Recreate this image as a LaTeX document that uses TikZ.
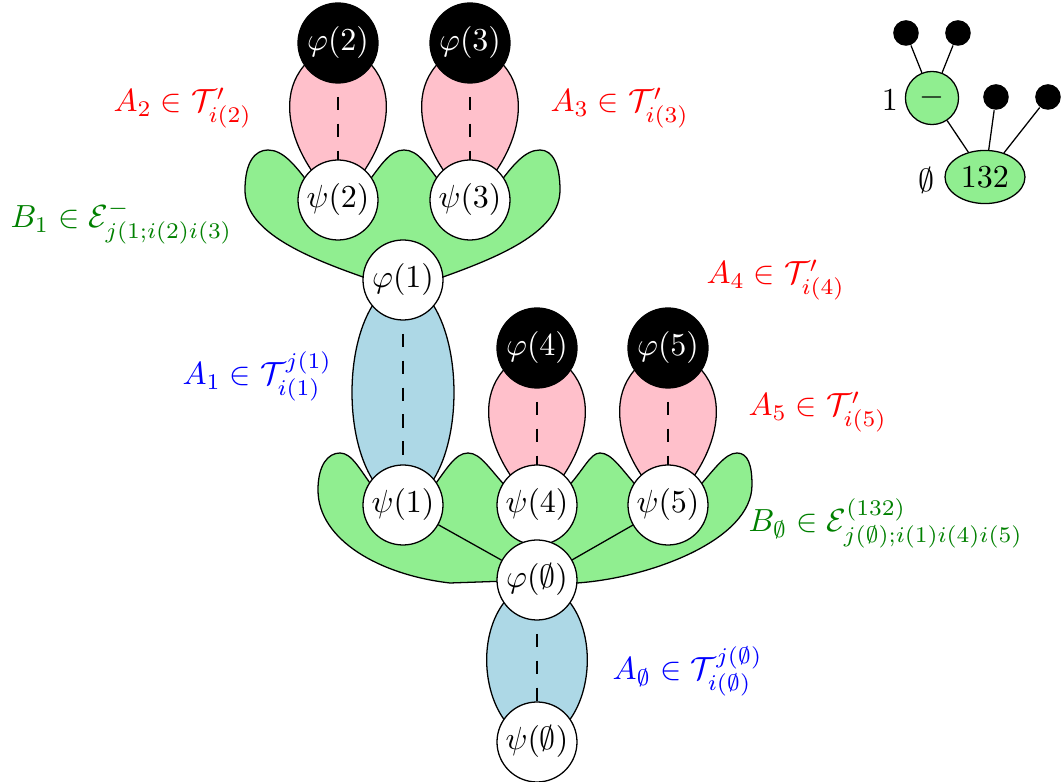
\documentclass[tikz,border=0pt]{standalone}
\usetikzlibrary{shapes.geometric,backgrounds}
\definecolor{lgreen}{RGB}{144,238,144}
\definecolor{lpink}{RGB}{255,192,203}
\definecolor{lblue}{RGB}{173,216,230}
\definecolor{dgreen}{RGB}{0,128,0}
\begin{document}
\begin{tikzpicture}[x=0.3125pt,y=-0.3125pt,
  wnode/.style={circle,draw,fill=white,minimum size=25pt,inner sep=0pt},
  bnode/.style={circle,draw,fill=black,text=white,minimum size=25pt,inner sep=0pt},
  lbl/.style={anchor=base west,inner sep=0pt},
  blob/.style={draw,fill=lgreen},
  pinklens/.style={draw,fill=lpink},
  bluelens/.style={draw,fill=lblue},
  dashline/.style={draw,dash pattern=on 4.2pt off 4.2pt},
  dotnode/.style={circle,fill=black,minimum size=8pt,inner sep=0pt},
  treenode/.style={draw,fill=lgreen,inner sep=0pt}]
\useasboundingbox (0,0) rectangle (1062,782);

% nodes
\node[bnode] (phi2) at (338,43) {$\varphi(2)$};
\node[bnode] (phi3) at (470,43) {$\varphi(3)$};
\node[wnode] (psi2) at (338,200) {$\psi(2)$};
\node[wnode] (psi3) at (470,200) {$\psi(3)$};
\node[wnode] (phi1) at (403,280) {$\varphi(1)$};
\node[wnode] (psi1) at (403,505) {$\psi(1)$};
\node[bnode] (phi4) at (537,348) {$\varphi(4)$};
\node[bnode] (phi5) at (668,348) {$\varphi(5)$};
\node[wnode] (psi4) at (537,505) {$\psi(4)$};
\node[wnode] (psi5) at (668,505) {$\psi(5)$};
\node[wnode] (phie) at (537,580) {$\varphi(\emptyset)$};
\node[wnode] (psie) at (537,742) {$\psi(\emptyset)$};

\begin{pgfonlayer}{background}
% green blobs
\path[blob] (363,277) .. controls (300,255) and (245,230) .. (245,190)
  .. controls (245,162) and (255,150) .. (268,150)
  .. controls (283,150) and (295,165) .. (310,185) -- (338,200) -- (366,185)
  .. controls (381,165) and (390,150) .. (404,150)
  .. controls (418,150) and (427,165) .. (442,185) -- (470,200) -- (498,185)
  .. controls (513,165) and (525,150) .. (540,150)
  .. controls (553,150) and (560,165) .. (560,190)
  .. controls (560,230) and (505,255) .. (443,277) -- (403,280) -- cycle;
\path[blob] (450,583) .. controls (380,575) and (318,540) .. (318,490)
  .. controls (318,465) and (328,453) .. (340,453)
  .. controls (352,453) and (360,470) .. (375,490) -- (403,505) -- (431,490)
  .. controls (446,470) and (455,453) .. (468,453)
  .. controls (481,453) and (490,470) .. (509,490) -- (537,505) -- (565,490)
  .. controls (584,470) and (590,453) .. (600,453)
  .. controls (612,453) and (622,470) .. (640,490) -- (668,505) -- (696,490)
  .. controls (714,470) and (725,453) .. (737,453)
  .. controls (748,453) and (752,465) .. (752,485)
  .. controls (752,540) and (650,578) .. (577,583) -- (537,580) -- cycle;
% lenses
\path[pinklens] (phi2.center) .. controls +(-83,32) and +(-43,-35) .. (psi2.center)
  .. controls +(43,-35) and +(83,32) .. (phi2.center) -- cycle;
\path[pinklens] (phi3.center) .. controls +(-83,32) and +(-43,-35) .. (psi3.center)
  .. controls +(43,-35) and +(83,32) .. (phi3.center) -- cycle;
\path[pinklens] (phi4.center) .. controls +(-83,32) and +(-43,-35) .. (psi4.center)
  .. controls +(43,-35) and +(83,32) .. (phi4.center) -- cycle;
\path[pinklens] (phi5.center) .. controls +(-83,32) and +(-43,-35) .. (psi5.center)
  .. controls +(43,-35) and +(83,32) .. (phi5.center) -- cycle;
\path[bluelens] (phi1.center) .. controls +(-68,20) and +(-68,-20) .. (psi1.center)
  .. controls +(68,-20) and +(68,20) .. (phi1.center) -- cycle;
\path[bluelens] (phie.center) .. controls +(-72,20) and +(-62,-12) .. (psie.center)
  .. controls +(62,-12) and +(72,20) .. (phie.center) -- cycle;
% dashed lines (centre to centre, under the circles)
\path[dashline] (phi2.center) -- (psi2.center);
\path[dashline] (phi3.center) -- (psi3.center);
\path[dashline] (phi4.center) -- (psi4.center);
\path[dashline] (phi5.center) -- (psi5.center);
\path[dashline] (phi1.center) -- (psi1.center);
\path[dashline] (phie.center) -- (psie.center);
\end{pgfonlayer}

% solid lines
\draw (psi1) -- (phie);
\draw (psi5) -- (phie);

% labels
\node[lbl,text=red] (lA2) at (113,112) {$A_2\in\mathcal{T}'_{i(2)}$};
\node[lbl,text=red] (lA3) at (550,112) {$A_3\in\mathcal{T}'_{i(3)}$};
\node[lbl,text=dgreen] (lB1) at (10,228) {$B_1\in\mathcal{E}^-_{j(1;i(2)i(3)}$};
\node[lbl,text=red] (lA4) at (706,284) {$A_4\in\mathcal{T}'_{i(4)}$};
\node[lbl,text=blue] (lA1) at (182,385) {$A_1\in\mathcal{T}^{j(1)}_{i(1)}$};
\node[lbl,text=red] (lA5) at (748,416) {$A_5\in\mathcal{T}'_{i(5)}$};
\node[lbl,text=dgreen] (lBe) at (748,532) {$B_\emptyset\in\mathcal{E}^{(132)}_{j(\emptyset);i(1)i(4)i(5)}$};
\node[lbl,text=blue] (lAe) at (612,680) {$A_\emptyset\in\mathcal{T}^{j(\emptyset)}_{i(\emptyset)}$};

% tree at top right
\node[dotnode] (d1) at (906,33) {};
\node[dotnode] (d2) at (958,33) {};
\node[dotnode] (d3) at (996,97) {};
\node[dotnode] (d4) at (1048,97) {};
\node[treenode,circle,minimum size=16.6pt] (m) at (932,98) {$-$};
\node[treenode,ellipse,minimum width=25pt,minimum height=16.6pt] (e) at (985,177) {132};
\node (t1) at (890,100) {1};
\node (te) at (927,180) {$\emptyset$};
\draw (d1) -- (m);
\draw (d2) -- (m);
\draw (m) -- (e);
\draw (d3) -- (e);
\draw (d4) -- (e);
\end{tikzpicture}
\end{document}
